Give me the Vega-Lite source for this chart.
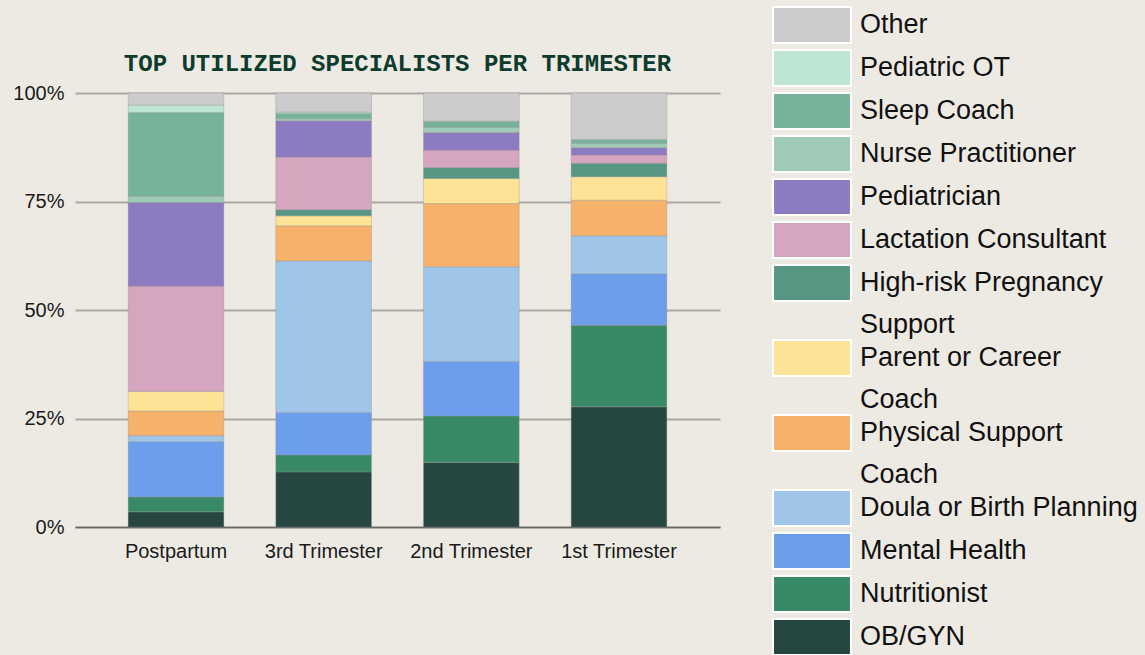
{
  "$schema": "https://vega.github.io/schema/vega-lite/v6.json",
  "width": 645,
  "height": 434,
  "autosize": {"type": "none"},
  "padding": {"left": 75, "top": 93, "right": 425, "bottom": 128},
  "background": "#edeae3",
  "title": {
    "text": "TOP UTILIZED SPECIALISTS PER TRIMESTER",
    "font": "Liberation Mono",
    "fontWeight": "bold",
    "fontSize": 24,
    "color": "#0d3b2e",
    "anchor": "middle",
    "baseline": "alphabetic",
    "offset": -90
  },
  "data": {
    "values": [
      {"stage": "Postpartum", "specialist": "OB/GYN", "share": 3.5},
      {"stage": "Postpartum", "specialist": "Nutritionist", "share": 3.4},
      {"stage": "Postpartum", "specialist": "Mental Health", "share": 12.8},
      {"stage": "Postpartum", "specialist": "Doula or Birth Planning", "share": 1.4},
      {"stage": "Postpartum", "specialist": "Physical Support Coach", "share": 5.7},
      {"stage": "Postpartum", "specialist": "Parent or Career Coach", "share": 4.5},
      {"stage": "Postpartum", "specialist": "Lactation Consultant", "share": 24.3},
      {"stage": "Postpartum", "specialist": "Pediatrician", "share": 19.3},
      {"stage": "Postpartum", "specialist": "Nurse Practitioner", "share": 1.5},
      {"stage": "Postpartum", "specialist": "Sleep Coach", "share": 19.3},
      {"stage": "Postpartum", "specialist": "Pediatric OT", "share": 1.7},
      {"stage": "Postpartum", "specialist": "Other", "share": 2.8},
      {"stage": "3rd Trimester", "specialist": "OB/GYN", "share": 12.7},
      {"stage": "3rd Trimester", "specialist": "Nutritionist", "share": 3.9},
      {"stage": "3rd Trimester", "specialist": "Mental Health", "share": 9.8},
      {"stage": "3rd Trimester", "specialist": "Doula or Birth Planning", "share": 34.9},
      {"stage": "3rd Trimester", "specialist": "Physical Support Coach", "share": 8.1},
      {"stage": "3rd Trimester", "specialist": "Parent or Career Coach", "share": 2.3},
      {"stage": "3rd Trimester", "specialist": "High-risk Pregnancy Support", "share": 1.4},
      {"stage": "3rd Trimester", "specialist": "Lactation Consultant", "share": 12.1},
      {"stage": "3rd Trimester", "specialist": "Pediatrician", "share": 8.4},
      {"stage": "3rd Trimester", "specialist": "Nurse Practitioner", "share": 0.5},
      {"stage": "3rd Trimester", "specialist": "Sleep Coach", "share": 1.2},
      {"stage": "3rd Trimester", "specialist": "Pediatric OT", "share": 0.3},
      {"stage": "3rd Trimester", "specialist": "Other", "share": 4.4},
      {"stage": "2nd Trimester", "specialist": "OB/GYN", "share": 14.9},
      {"stage": "2nd Trimester", "specialist": "Nutritionist", "share": 10.7},
      {"stage": "2nd Trimester", "specialist": "Mental Health", "share": 12.6},
      {"stage": "2nd Trimester", "specialist": "Doula or Birth Planning", "share": 21.8},
      {"stage": "2nd Trimester", "specialist": "Physical Support Coach", "share": 14.6},
      {"stage": "2nd Trimester", "specialist": "Parent or Career Coach", "share": 5.8},
      {"stage": "2nd Trimester", "specialist": "High-risk Pregnancy Support", "share": 2.5},
      {"stage": "2nd Trimester", "specialist": "Lactation Consultant", "share": 4.0},
      {"stage": "2nd Trimester", "specialist": "Pediatrician", "share": 4.1},
      {"stage": "2nd Trimester", "specialist": "Nurse Practitioner", "share": 1.2},
      {"stage": "2nd Trimester", "specialist": "Sleep Coach", "share": 1.4},
      {"stage": "2nd Trimester", "specialist": "Other", "share": 6.5},
      {"stage": "1st Trimester", "specialist": "OB/GYN", "share": 27.7},
      {"stage": "1st Trimester", "specialist": "Nutritionist", "share": 18.8},
      {"stage": "1st Trimester", "specialist": "Mental Health", "share": 11.8},
      {"stage": "1st Trimester", "specialist": "Doula or Birth Planning", "share": 8.8},
      {"stage": "1st Trimester", "specialist": "Physical Support Coach", "share": 8.2},
      {"stage": "1st Trimester", "specialist": "Parent or Career Coach", "share": 5.4},
      {"stage": "1st Trimester", "specialist": "High-risk Pregnancy Support", "share": 3.1},
      {"stage": "1st Trimester", "specialist": "Lactation Consultant", "share": 1.9},
      {"stage": "1st Trimester", "specialist": "Pediatrician", "share": 1.7},
      {"stage": "1st Trimester", "specialist": "Nurse Practitioner", "share": 1.0},
      {"stage": "1st Trimester", "specialist": "Sleep Coach", "share": 0.9},
      {"stage": "1st Trimester", "specialist": "Other", "share": 10.7}
    ]
  },
  "transform": [
    {"calculate": "indexof(['OB/GYN','Nutritionist','Mental Health','Doula or Birth Planning','Physical Support Coach','Parent or Career Coach','High-risk Pregnancy Support','Lactation Consultant','Pediatrician','Nurse Practitioner','Sleep Coach','Pediatric OT','Other'], datum.specialist)", "as": "rank"}
  ],
  "mark": {"type": "bar", "stroke": "#8f8f8f", "strokeWidth": 1, "strokeOpacity": 0.35},
  "encoding": {
    "x": {
      "field": "stage",
      "type": "nominal",
      "sort": ["Postpartum", "3rd Trimester", "2nd Trimester", "1st Trimester"],
      "scale": {"paddingInner": 0.352, "paddingOuter": 0.36},
      "axis": {
        "title": null,
        "labelAngle": 0,
        "ticks": false,
        "labelPadding": 14,
        "labelFont": "Liberation Sans",
        "labelFontSize": 20,
        "labelColor": "#1a1a1a",
        "domainColor": "#666666",
        "domainWidth": 1.5,
        "grid": false
      }
    },
    "y": {
      "field": "share",
      "type": "quantitative",
      "stack": "normalize",
      "scale": {"domain": [0, 1], "nice": false},
      "axis": {
        "title": null,
        "format": ".0%",
        "values": [0, 0.25, 0.5, 0.75, 1],
        "ticks": false,
        "domain": false,
        "labelPadding": 11,
        "labelFont": "Liberation Sans",
        "labelFontSize": 20,
        "labelColor": "#1a1a1a",
        "gridColor": "#aaa8a4",
        "gridWidth": 2
      }
    },
    "order": {"field": "rank", "type": "quantitative", "sort": "ascending"},
    "color": {
      "field": "specialist",
      "type": "nominal",
      "scale": {
        "domain": ["OB/GYN", "Nutritionist", "Mental Health", "Doula or Birth Planning", "Physical Support Coach", "Parent or Career Coach", "High-risk Pregnancy Support", "Lactation Consultant", "Pediatrician", "Nurse Practitioner", "Sleep Coach", "Pediatric OT", "Other"],
        "range": ["#264641", "#388a66", "#6d9eeb", "#9fc5e8", "#f6b26b", "#fee397", "#569683", "#d6a5bf", "#8d7bc1", "#9fcab7", "#76b39a", "#bde5d3", "#cccccc"]
      },
      "legend": {
        "title": null,
        "orient": "none",
        "legendX": 695,
        "legendY": -88,
        "padding": 0,
        "values": ["Other", "Pediatric OT", "Sleep Coach", "Nurse Practitioner", "Pediatrician", "Lactation Consultant", "High-risk Pregnancy Support", "Parent or Career Coach", "Physical Support Coach", "Doula or Birth Planning", "Mental Health", "Nutritionist", "OB/GYN"],
        "symbolType": "M-2.05,-0.95H2.05V0.95H-2.05Z",
        "symbolSize": 1444,
        "symbolOffset": 22,
        "symbolStrokeColor": "#ffffff",
        "symbolStrokeWidth": 2,
        "symbolOpacity": 1,
        "labelOffset": 28,
        "labelFont": "Liberation Sans",
        "labelFontSize": 27,
        "labelColor": "#111111",
        "labelLimit": 400,
        "rowPadding": -8,
        "labelExpr": "datum.label == 'High-risk Pregnancy Support' ? ['High-risk Pregnancy', 'Support'] : datum.label == 'Parent or Career Coach' ? ['Parent or Career', 'Coach'] : datum.label == 'Physical Support Coach' ? ['Physical Support', 'Coach'] : datum.label"
      }
    }
  },
  "config": {
    "view": {"stroke": null},
    "style": {"guide-label": {"lineHeight": 42}}
  }
}
